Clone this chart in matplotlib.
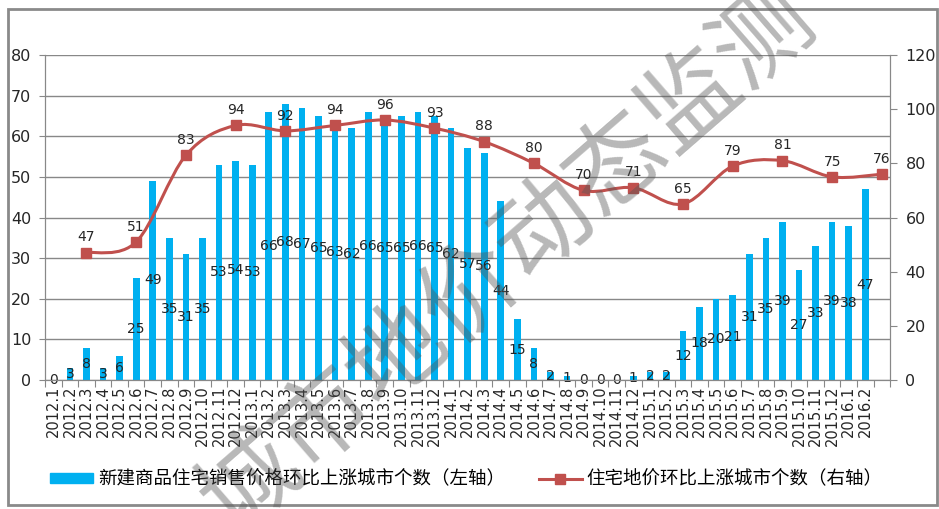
import numpy as np
import matplotlib.pyplot as plt
from matplotlib.path import Path
from matplotlib.patches import PathPatch, Rectangle
from matplotlib.lines import Line2D

plt.rcParams['font.family'] = ['DejaVu Sans', 'Noto Sans CJK SC']

# monthly data (left axis)
months = ['2012.1', '2012.2', '2012.3', '2012.4', '2012.5', '2012.6', '2012.7', '2012.8',
          '2012.9', '2012.10', '2012.11', '2012.12', '2013.1', '2013.2', '2013.3', '2013.4',
          '2013.5', '2013.6', '2013.7', '2013.8', '2013.9', '2013.10', '2013.11', '2013.12',
          '2014.1', '2014.2', '2014.3', '2014.4', '2014.5', '2014.6', '2014.7', '2014.8',
          '2014.9', '2014.10', '2014.11', '2014.12', '2015.1', '2015.2', '2015.3', '2015.4',
          '2015.5', '2015.6', '2015.7', '2015.8', '2015.9', '2015.10', '2015.11', '2015.12',
          '2016.1', '2016.2']
new_home_up = [0, 3, 8, 3, 6, 25, 49, 35, 31, 35, 53, 54, 53, 66, 68, 67, 65, 63, 62, 66,
               65, 65, 66, 65, 62, 57, 56, 44, 15, 8, 2, 1, 0, 0, 0, 1, 2, 2, 12, 18,
               20, 21, 31, 35, 39, 27, 33, 39, 38, 47]

# quarterly data (right axis)
land_quarters = ['2012.3', '2012.6', '2012.9', '2012.12', '2013.3', '2013.6', '2013.9',
                 '2013.12', '2014.3', '2014.6', '2014.9', '2014.12', '2015.3', '2015.6',
                 '2015.9', '2015.12', '2016.3']
land_up = [47, 51, 83, 94, 92, 94, 96, 93, 88, 80, 70, 71, 65, 79, 81, 75, 76]

categories = months + ['2016.3']
tick_labels = months + ['']

bar_label = '新建商品住宅销售价格环比上涨城市个数（左轴）'
line_label = '住宅地价环比上涨城市个数（右轴）'
watermark = '城市地价动态监测'

BAR_C = '#00B0F0'
LINE_C = '#C0504D'
GRID_C = '#888888'
TXT_C = '#262626'


def smooth_path(xs, ys, k=1 / 6):
    # bezier segments like excel's smoothed line
    pts = np.column_stack([xs, ys]).astype(float)
    n = len(pts)
    verts = [pts[0]]
    codes = [Path.MOVETO]
    for i in range(n - 1):
        p0 = pts[max(i - 1, 0)]
        p1 = pts[i]
        p2 = pts[i + 1]
        p3 = pts[min(i + 2, n - 1)]
        verts += [p1 + (p2 - p0) * k, p2 - (p3 - p1) * k, p2]
        codes += [Path.CURVE4] * 3
    return Path(verts, codes)


fig = plt.figure(figsize=(9.39, 5.09), dpi=100)
ax = fig.add_axes([0.048, 0.2534, 0.9, 0.6385])
ax2 = ax.twinx()

x = np.arange(len(months))
ax.bar(x, new_home_up, width=0.4, color=BAR_C, zorder=2)
for xi, v in zip(x, new_home_up):
    ax.text(xi, v / 2, str(v), ha='center', va='center', fontsize=10, color=TXT_C, zorder=3)

ax.set_xlim(-0.5, len(categories) - 0.5)
ax.set_ylim(0, 80)
ax.set_yticks(np.arange(0, 81, 10))
ax.grid(axis='y', color=GRID_C, lw=1, zorder=0)
ax.set_axisbelow(True)

ax.set_xticks(np.arange(-0.5, len(categories)), minor=False)
ax.set_xticklabels([])
ax.set_xticks(np.arange(len(categories)), minor=True)
ax.set_xticklabels(tick_labels, minor=True, rotation=90, fontsize=10.5, color=TXT_C)
ax.tick_params(axis='x', which='major', length=5, color=GRID_C, direction='out')
ax.tick_params(axis='x', which='minor', length=0, pad=4)
ax.tick_params(axis='y', length=4, color=GRID_C, labelsize=11.5, labelcolor=TXT_C, pad=6)

for s in ['top']:
    ax.spines[s].set_visible(False)
    ax2.spines[s].set_visible(False)
for s in ['left', 'bottom', 'right']:
    ax.spines[s].set_color(GRID_C)
    ax2.spines[s].set_color(GRID_C)

lx = np.array([categories.index(q) for q in land_quarters])
ax2.set_ylim(0, 120)
ax2.set_yticks(np.arange(0, 121, 20))
ax2.tick_params(axis='y', length=5, color=GRID_C, labelsize=11.5, labelcolor=TXT_C, pad=6)
ax2.add_patch(PathPatch(smooth_path(lx, land_up), fill=False, edgecolor=LINE_C, lw=2.2,
                        zorder=4, capstyle='round'))
ax2.plot(lx, land_up, ls='none', marker='s', markersize=7.5, color=LINE_C, zorder=5)
for xi, v in zip(lx, land_up):
    ax2.annotate(str(v), (xi, v), xytext=(0, 6), textcoords='offset points',
                 ha='center', va='bottom', fontsize=10, color=TXT_C, zorder=6)

handles = [Rectangle((0, 0), 1, 1, color=BAR_C),
           Line2D([], [], color=LINE_C, lw=2.2, marker='s', markersize=7)]
fig.legend(handles, [bar_label, line_label], loc='center left', bbox_to_anchor=(0.036, 0.058),
           ncol=2, frameon=False, handlelength=2.33, handleheight=0.5,
           handletextpad=0.27, columnspacing=1.8, prop={'family': ['Noto Sans CJK SC'], 'size': 13.3})

fig.text(0.54, 0.49, watermark, rotation=41, ha='center', va='center',
         fontsize=70, fontweight='light', color='#555555', alpha=0.42,
         family=['Noto Sans CJK SC'], zorder=10)

fig.patches.append(Rectangle((0.008, 0.008), 0.99, 0.975, transform=fig.transFigure,
                             fill=False, edgecolor='#8a8a8a', lw=2))

fig.savefig('out.png', dpi=100)
